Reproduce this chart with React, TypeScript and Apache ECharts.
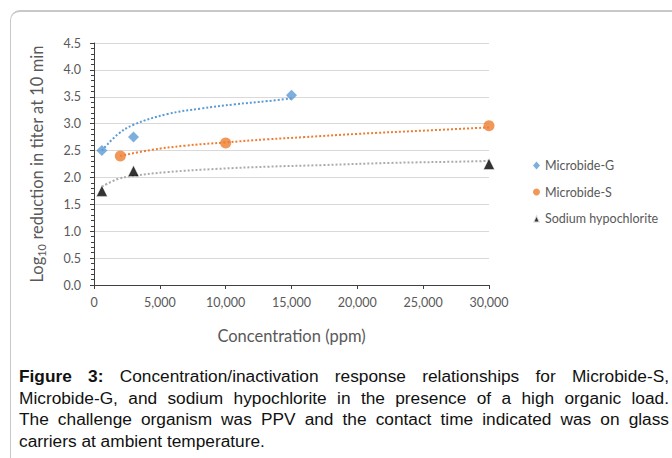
import React, { useEffect, useRef } from "react";
import * as echarts from "echarts";

// ---- data ----
const seriesNames = ["Microbide-G", "Microbide-S", "Sodium hypochlorite"];
const microbideG: number[][] = [[600, 2.5], [3000, 2.75], [15000, 3.53]];
const microbideS: number[][] = [[2000, 2.4], [10000, 2.64], [30000, 2.96]];
const hypochlorite: number[][] = [[600, 1.75], [3000, 2.12], [30000, 2.25]];
// trendlines
const trendG: number[][] = [[600, 2.5], [1800, 2.8], [3000, 2.98], [5600, 3.18], [8100, 3.28], [10700, 3.36], [13200, 3.42], [15000, 3.47]];
const trendS: number[][] = [[2000, 2.4], [4300, 2.51], [6900, 2.59], [9900, 2.65], [13200, 2.71], [16000, 2.75], [20000, 2.81], [25000, 2.87], [30000, 2.93]];
const trendH: number[][] = [[600, 1.83], [1800, 1.97], [3000, 2.03], [5600, 2.1], [9400, 2.16], [13200, 2.2], [17400, 2.23], [22500, 2.27], [29000, 2.3], [30000, 2.31]];

const xAxisTitle = "Concentration (ppm)";
const captionLines = [
  "Concentration/inactivation response relationships for Microbide-S,",
  "Microbide-G, and sodium hypochlorite in the presence of a high organic load.",
  "The challenge organism was PPV and the contact time indicated was on glass",
  "carriers at ambient temperature.",
];

const BLUE = "#5B9BD5";
const ORANGE = "#ED7D31";
const GREY = "#ABABAB";
const TXT = "#595959";
const FONT = "Lato, 'Open Sans', sans-serif";

function fmtThousands(v: number): string {
  return String(Math.round(v)).replace(/\B(?=(\d{3})+(?!\d))/g, ",");
}

function Chart() {
  const ref = useRef<HTMLDivElement>(null);
  useEffect(() => {
    if (!ref.current) return;
    const chart = echarts.init(ref.current, undefined, { renderer: "svg" });
    const trendStyle = (color: string) => ({ color, width: 2, type: [2, 2] as any });
    chart.setOption({
      animation: false,
      textStyle: { fontFamily: FONT },
      grid: { left: 94, right: 183, top: 43, bottom: 65 },
      legend: {
        orient: "vertical",
        left: 527,
        top: 153,
        itemWidth: 7,
        itemHeight: 8,
        itemGap: 11.5,
        textStyle: { color: TXT, fontSize: 12.5, fontFamily: FONT, lineHeight: 15 },
        data: [
          { name: seriesNames[0], icon: "diamond" },
          { name: seriesNames[1], icon: "circle" },
          { name: seriesNames[2], icon: "triangle" },
        ],
      },
      xAxis: {
        type: "value",
        min: 0,
        max: 30000,
        interval: 5000,
        name: xAxisTitle,
        nameLocation: "middle",
        nameGap: 42,
        nameTextStyle: { color: TXT, fontSize: 16.5, fontFamily: FONT },
        axisLine: { show: true, lineStyle: { color: "#404040", width: 1 } },
        axisTick: { show: true, length: 4, lineStyle: { color: "#404040" } },
        axisLabel: { color: TXT, fontSize: 12.5, margin: 11, formatter: (v: number) => fmtThousands(v) },
        splitLine: { show: false },
      },
      yAxis: {
        type: "value",
        min: 0,
        max: 4.5,
        interval: 0.5,
        name: "{b|Log}{s|10}{b| reduction in titer at 10 min}",
        nameLocation: "middle",
        nameGap: 47,
        nameTextStyle: {
          color: TXT,
          fontFamily: FONT,
          rich: {
            b: { fontSize: 16.5, color: TXT, fontFamily: FONT, lineHeight: 20 },
            s: { fontSize: 11, color: TXT, fontFamily: FONT, padding: [8, 0, 0, 0] },
          },
        },
        axisLine: { show: true, lineStyle: { color: "#404040", width: 1 } },
        axisTick: { show: true, length: 4, lineStyle: { color: "#404040" } },
        minorTick: { show: true, splitNumber: 5, length: 3, lineStyle: { color: "#404040" } },
        axisLabel: { color: TXT, fontSize: 12.5, margin: 13, formatter: (v: number) => v.toFixed(1) },
        splitLine: { show: true, lineStyle: { color: "#D9D9D9", width: 1 } },
      },
      series: [
        { type: "line", data: trendG, showSymbol: false, smooth: 0.4, lineStyle: trendStyle(BLUE), z: 2, silent: true },
        { type: "line", data: trendS, showSymbol: false, smooth: 0.4, lineStyle: trendStyle(ORANGE), z: 2, silent: true },
        { type: "line", data: trendH, showSymbol: false, smooth: 0.4, lineStyle: trendStyle(GREY), z: 2, silent: true },
        { name: seriesNames[0], type: "scatter", data: microbideG, symbol: "diamond", symbolSize: 11, itemStyle: { color: BLUE }, z: 5 },
        { name: seriesNames[1], type: "scatter", data: microbideS, symbol: "circle", symbolSize: 11, itemStyle: { color: ORANGE }, z: 5 },
        { name: seriesNames[2], type: "scatter", data: hypochlorite, symbol: "triangle", symbolSize: 11, itemStyle: { color: "#000000", borderColor: "#ffffff", borderWidth: 0.5 }, z: 5 },
      ],
    });
    return () => chart.dispose();
  }, []);
  return <div ref={ref} style={{ position: "absolute", left: 0, top: 0, width: 672, height: 350 }} />;
}

export default function App() {
  const lineStyle: React.CSSProperties = {
    height: 21.5,
    lineHeight: "21.5px",
    whiteSpace: "normal",
    textAlign: "justify",
    textAlignLast: "justify" as any,
  };
  return (
    <div style={{ position: "fixed", left: 0, top: 0, width: 672, height: 458, overflow: "hidden", background: "#fff" }}>
      <div
        style={{
          position: "absolute",
          left: 10,
          top: 10,
          width: 720,
          height: 520,
          borderTop: "2px solid #C8C8C8",
          borderLeft: "1px solid #C8C8C8",
          borderTopLeftRadius: 10,
          boxSizing: "border-box",
        }}
      />
      <Chart />
      <div
        style={{
          position: "absolute",
          left: 19,
          top: 366,
          width: 650,
          fontFamily: "'Liberation Sans', Arial, sans-serif",
          fontSize: 17.3,
          color: "#111111",
        }}
      >
        <div style={lineStyle}>
          <b>Figure 3:</b> {captionLines[0]}
        </div>
        <div style={lineStyle}>{captionLines[1]}</div>
        <div style={lineStyle}>{captionLines[2]}</div>
        <div style={{ height: 21.5, lineHeight: "21.5px", whiteSpace: "nowrap" }}>{captionLines[3]}</div>
      </div>
    </div>
  );
}
